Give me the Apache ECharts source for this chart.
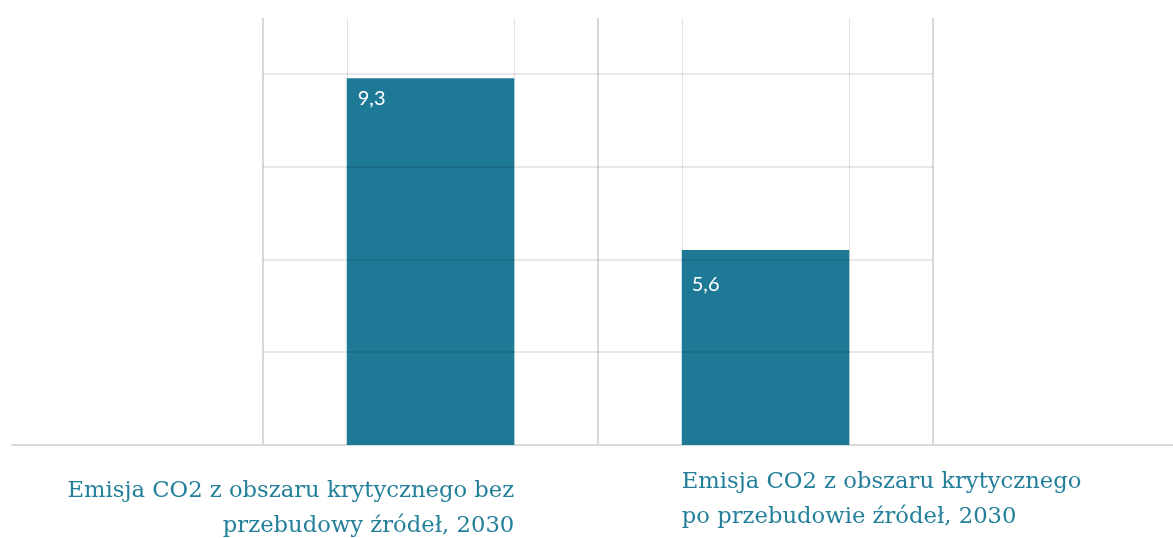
<!DOCTYPE html>
<html><head><meta charset="utf-8">
<script src="https://cdn.jsdelivr.net/npm/echarts@6/dist/echarts.min.js"></script>
<style>html,body{margin:0;padding:0;background:#fff}#c{width:1173px;height:538px}</style>
</head><body><div id="c"></div>
<script>
// ---- data ----
const categories = [
  'Emisja CO2 z obszaru krytycznego bez\nprzebudowy źródeł, 2030',
  'Emisja CO2 z obszaru krytycznego\npo przebudowie źródeł, 2030'
];
const values = [9.3, 5.6];
const valueLabels = ['9,3', '5,6'];
const yMin = 1.4, yMax = 10.6, yStep = 2;

// ---- styles ----
const BAR = '#1d7995';
const TEXT = '#24809a';
const barLabelPos = [[11, 10], [10, 24]];
const catAlign = ['right', 'left'];
const catPad = [[9, 0, 0, 0], [0, 0, 0, 0]];

const labelSlots = [''].concat(categories.map((c, i) => ({
  value: c, textStyle: { align: catAlign[i], padding: catPad[i] }
}))).concat([' ']);

const chart = echarts.init(document.getElementById('c'), null, { renderer: 'canvas' });
chart.setOption({
  animation: false,
  backgroundColor: '#fff',
  grid: [
    { left: 263, right: 240, top: 18, bottom: 93, outerBoundsMode: 'none' },
    { left: 12, right: 0, top: 18, bottom: 93, outerBoundsMode: 'none' }
  ],
  xAxis: [
    { type: 'category', gridIndex: 0, data: categories, position: 'bottom',
      axisLine: { show: false }, axisTick: { show: false }, axisLabel: { show: false },
      splitLine: { show: true, lineStyle: { color: '#d9d9d9', width: 2 } } },
    { type: 'value', gridIndex: 0, min: 0, max: 8, interval: 1, position: 'bottom',
      axisLine: { show: false }, axisTick: { show: false }, axisLabel: { show: false },
      splitLine: { show: true, lineStyle: { color: ['transparent', '#e3e3e3'], width: 1 } } },
    { type: 'category', gridIndex: 0, data: labelSlots, position: 'bottom',
      axisLine: { show: false }, axisTick: { show: false }, splitLine: { show: false },
      axisLabel: { show: true, interval: 0, margin: 20, verticalAlign: 'top',
        fontFamily: 'DejaVu Serif', fontSize: 22.7, lineHeight: 35, color: TEXT } },
    { type: 'value', gridIndex: 1, min: 0, max: 1,
      axisLine: { show: true, lineStyle: { color: '#d9d9d9', width: 2 } },
      axisTick: { show: false }, axisLabel: { show: false }, splitLine: { show: false } }
  ],
  yAxis: [
    { type: 'value', gridIndex: 0, min: yMin, max: yMax, interval: yStep, z: 5,
      axisLine: { show: false }, axisTick: { show: false }, axisLabel: { show: false },
      splitLine: { show: true, showMinLine: false, showMaxLine: false,
        lineStyle: { color: 'rgba(0,0,0,0.12)', width: 1.5 } } },
    { type: 'value', gridIndex: 1, show: false }
  ],
  series: [{
    type: 'bar', xAxisIndex: 0, yAxisIndex: 0, barWidth: '50%', clip: true,
    itemStyle: { color: BAR },
    data: values.map((v, i) => ({ value: v, label: { position: barLabelPos[i] } })),
    label: { show: true, color: '#fff', fontFamily: 'Lato', fontSize: 20,
      formatter: p => valueLabels[p.dataIndex] }
  }]
});
</script></body></html>
